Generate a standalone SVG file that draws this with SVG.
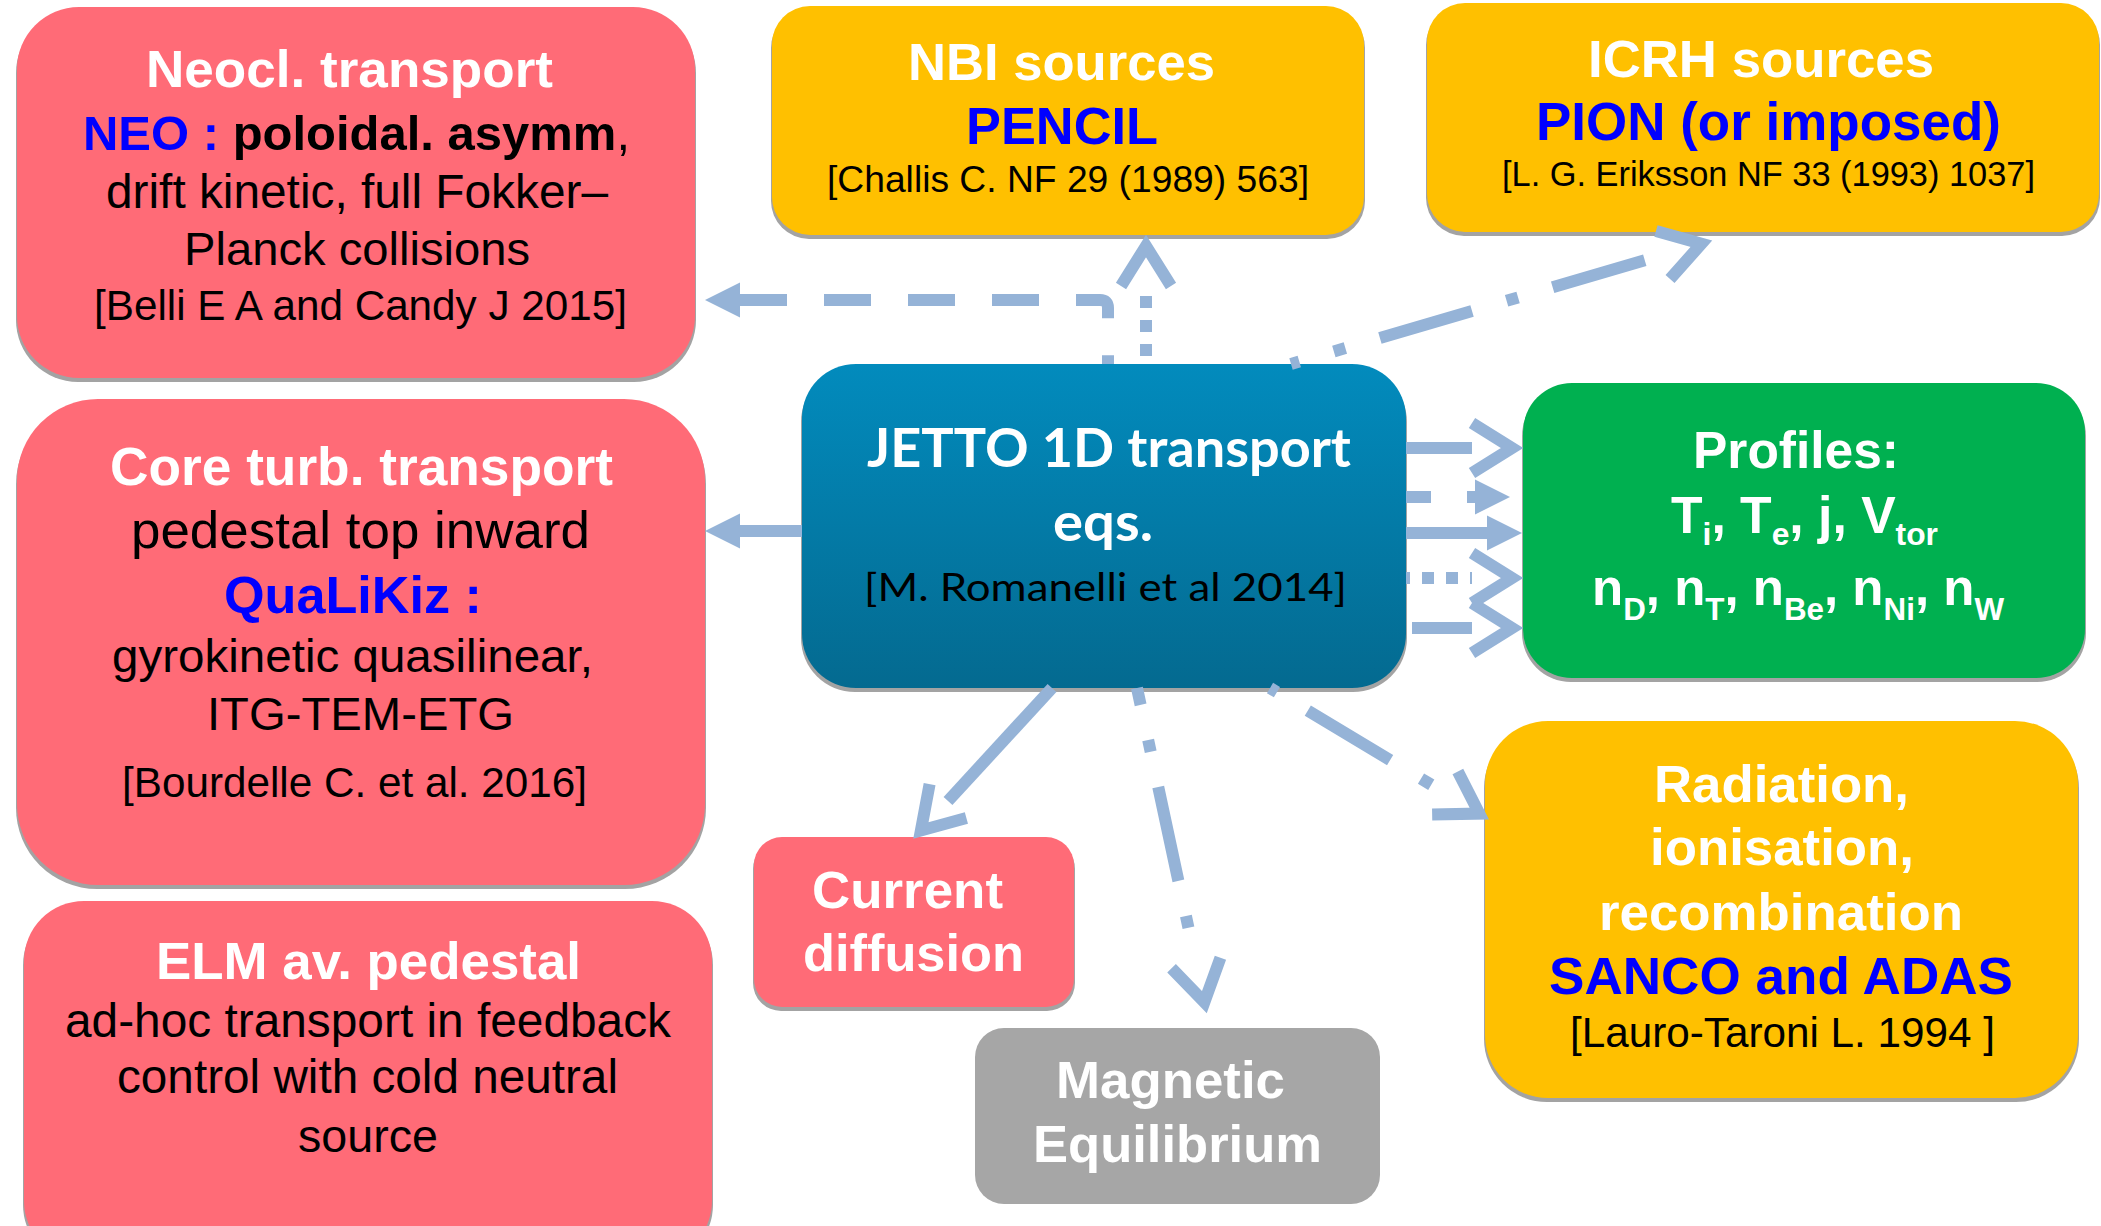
<svg xmlns="http://www.w3.org/2000/svg" width="2101" height="1226" viewBox="0 0 2101 1226">
<defs>
<style>
.t{font-family:"Liberation Sans",Arial,sans-serif;text-anchor:middle}
.c{font-family:Lato,"Open Sans","Liberation Sans",sans-serif;text-anchor:middle}
.b{font-weight:bold}
.w{fill:#FFFFFF}
.k{fill:#000000}
.bl{fill:#0000FF}
.sh{fill:#A3A3A3}
.red{fill:#FF6B77}
.org{fill:#FFC000}
.grn{fill:#00B050}
.gry{fill:#A6A6A6}
.con{fill:none;stroke:#95B3D7;stroke-width:12;stroke-linecap:butt}
.solid{}
.dash{stroke-dasharray:47 37}
.dot{stroke-dasharray:12 12}
.dd{stroke-dasharray:96 36 12 36}
.ft{marker-start:url(#tri)}
.fv{marker-start:url(#vee)}
</style>
<linearGradient id="jg" x1="0" y1="0" x2="0" y2="1">
<stop offset="0" stop-color="#028BBD"/>
<stop offset="1" stop-color="#046A90"/>
</linearGradient>
<marker id="tri" markerUnits="userSpaceOnUse" viewBox="0 -20 40 40" markerWidth="40" markerHeight="40" refX="0" refY="0" orient="auto-start-reverse" overflow="visible">
<polygon points="0,-17.5 35,0 0,17.5" fill="#95B3D7"/>
</marker>
<marker id="vee" markerUnits="userSpaceOnUse" viewBox="-2 -30 60 60" markerWidth="60" markerHeight="60" refX="0" refY="0" orient="auto-start-reverse" overflow="visible">
<path d="M0,-25 L40,0 L0,25" fill="none" stroke="#95B3D7" stroke-width="12" stroke-linejoin="miter" stroke-dasharray="none"/>
</marker>
</defs>
<rect width="2101" height="1226" fill="#FFFFFF"/>

<g id="node-neocl">
<rect class="sh" x="16" y="11" width="680" height="371" rx="62"/>
<rect class="red" x="17" y="7" width="678" height="371" rx="62"/>
<text class="t b w" x="349.5" y="87" font-size="52" textLength="407" lengthAdjust="spacingAndGlyphs">Neocl. transport</text>
<text class="t k" x="356.5" y="150" font-size="49" textLength="547" lengthAdjust="spacingAndGlyphs"><tspan class="b bl">NEO :</tspan><tspan class="b"> poloidal. asymm</tspan><tspan>,</tspan></text>
<text class="t k" x="357" y="208" font-size="48" textLength="502" lengthAdjust="spacingAndGlyphs">drift kinetic, full Fokker–</text>
<text class="t k" x="357" y="265" font-size="47" textLength="346" lengthAdjust="spacingAndGlyphs">Planck collisions</text>
<text class="t k" x="360.5" y="320" font-size="42" textLength="533" lengthAdjust="spacingAndGlyphs">[Belli E A and Candy J 2015]</text>
</g>

<g id="node-nbi">
<rect class="sh" x="771" y="10" width="594" height="229" rx="38"/>
<rect class="org" x="772" y="6" width="592" height="229" rx="38"/>
<text class="t b w" x="1061.5" y="80" font-size="52" textLength="307" lengthAdjust="spacingAndGlyphs">NBI sources</text>
<text class="t b bl" x="1062" y="144" font-size="52" textLength="192" lengthAdjust="spacingAndGlyphs">PENCIL</text>
<text class="t k" x="1068" y="192" font-size="37" textLength="482" lengthAdjust="spacingAndGlyphs">[Challis C. NF 29 (1989) 563]</text>
</g>

<g id="node-icrh">
<rect class="sh" x="1426" y="7" width="674" height="229" rx="38"/>
<rect class="org" x="1427" y="3" width="672" height="229" rx="38"/>
<text class="t b w" x="1761" y="77" font-size="52" textLength="346" lengthAdjust="spacingAndGlyphs">ICRH sources</text>
<text class="t b bl" x="1768.5" y="140" font-size="53" textLength="465" lengthAdjust="spacingAndGlyphs">PION (or imposed)</text>
<text class="t k" x="1768.5" y="186" font-size="35" textLength="533" lengthAdjust="spacingAndGlyphs">[L. G. Eriksson NF 33 (1993) 1037]</text>
</g>

<g id="node-core">
<rect class="sh" x="16" y="403" width="690" height="486" rx="81"/>
<rect class="red" x="17" y="399" width="688" height="486" rx="81"/>
<text class="t b w" x="361.5" y="485" font-size="53" textLength="503" lengthAdjust="spacingAndGlyphs">Core turb. transport</text>
<text class="t k" x="360.5" y="548" font-size="52" textLength="459" lengthAdjust="spacingAndGlyphs">pedestal top inward</text>
<text class="t b bl" x="353" y="613" font-size="52" textLength="258" lengthAdjust="spacingAndGlyphs">QuaLiKiz :</text>
<text class="t k" x="352.5" y="672" font-size="47" textLength="481" lengthAdjust="spacingAndGlyphs">gyrokinetic quasilinear,</text>
<text class="t k" x="360.5" y="730" font-size="47" textLength="307" lengthAdjust="spacingAndGlyphs">ITG-TEM-ETG</text>
<text class="t k" x="354.5" y="797" font-size="42" textLength="465" lengthAdjust="spacingAndGlyphs">[Bourdelle C. et al. 2016]</text>
</g>

<g id="node-elm">
<rect class="sh" x="23" y="905" width="690" height="360" rx="60"/>
<rect class="red" x="24" y="901" width="688" height="360" rx="60"/>
<text class="t b w" x="368.5" y="979" font-size="52" textLength="425" lengthAdjust="spacingAndGlyphs">ELM av. pedestal</text>
<text class="t k" x="368" y="1037" font-size="48" textLength="606" lengthAdjust="spacingAndGlyphs">ad-hoc transport in feedback</text>
<text class="t k" x="367.5" y="1093" font-size="48" textLength="501" lengthAdjust="spacingAndGlyphs">control with cold neutral</text>
<text class="t k" x="368" y="1152" font-size="47" textLength="140" lengthAdjust="spacingAndGlyphs">source</text>
</g>

<g id="node-jetto">
<rect class="sh" x="801" y="368" width="606" height="324" rx="54"/>
<rect x="802" y="364" width="604" height="324" rx="54" fill="url(#jg)"/>
<text class="c b w" x="1109" y="467" font-size="54" textLength="484" lengthAdjust="spacingAndGlyphs">JETTO 1D transport</text>
<text class="c b w" x="1103" y="541" font-size="54" textLength="100" lengthAdjust="spacingAndGlyphs">eqs.</text>
<text class="c k" x="1105.5" y="601" font-size="39" textLength="483" lengthAdjust="spacingAndGlyphs">[M. Romanelli et al 2014]</text>
</g>

<g id="node-profiles">
<rect class="sh" x="1522" y="387" width="564" height="295" rx="49"/>
<rect class="grn" x="1523" y="383" width="562" height="295" rx="49"/>
<text class="t b w" x="1796" y="468" font-size="52" textLength="206" lengthAdjust="spacingAndGlyphs">Profiles:</text>
<text class="t b w" x="1804.5" y="533" font-size="52" textLength="267" lengthAdjust="spacingAndGlyphs">T<tspan font-size="32" dy="12">i</tspan><tspan dy="-12">, T</tspan><tspan font-size="32" dy="12">e</tspan><tspan dy="-12">, j, V</tspan><tspan font-size="32" dy="12">tor</tspan></text>
<text class="t b w" x="1798" y="605" font-size="52" textLength="412" lengthAdjust="spacingAndGlyphs">n<tspan font-size="32" dy="15">D</tspan><tspan dy="-15">, n</tspan><tspan font-size="32" dy="15">T</tspan><tspan dy="-15">, n</tspan><tspan font-size="32" dy="15">Be</tspan><tspan dy="-15">, n</tspan><tspan font-size="32" dy="15">Ni</tspan><tspan dy="-15">, n</tspan><tspan font-size="32" dy="15">W</tspan></text>
</g>

<g id="node-current">
<rect class="sh" x="753" y="841" width="322" height="170" rx="28"/>
<rect class="red" x="754" y="837" width="320" height="170" rx="28"/>
<text class="t b w" x="907.5" y="908" font-size="52" textLength="191" lengthAdjust="spacingAndGlyphs">Current</text>
<text class="t b w" x="913.5" y="971" font-size="52" textLength="221" lengthAdjust="spacingAndGlyphs">diffusion</text>
</g>

<g id="node-magnetic">
<rect class="gry" x="975" y="1028" width="405" height="176" rx="29"/>
<text class="t b w" x="1170.5" y="1098" font-size="52" textLength="229" lengthAdjust="spacingAndGlyphs">Magnetic</text>
<text class="t b w" x="1177.5" y="1162" font-size="52" textLength="289" lengthAdjust="spacingAndGlyphs">Equilibrium</text>
</g>

<g id="node-radiation">
<rect class="sh" x="1484" y="725" width="595" height="377" rx="63"/>
<rect class="org" x="1485" y="721" width="593" height="377" rx="63"/>
<text class="t b w" x="1781.5" y="802" font-size="52" textLength="255" lengthAdjust="spacingAndGlyphs">Radiation,</text>
<text class="t b w" x="1782" y="865" font-size="52" textLength="264" lengthAdjust="spacingAndGlyphs">ionisation,</text>
<text class="t b w" x="1781" y="930" font-size="52" textLength="364" lengthAdjust="spacingAndGlyphs">recombination</text>
<text class="t b bl" x="1781" y="994" font-size="52" textLength="464" lengthAdjust="spacingAndGlyphs">SANCO and ADAS</text>
<text class="t k" x="1782.5" y="1047" font-size="42" textLength="425" lengthAdjust="spacingAndGlyphs">[Lauro-Taroni L. 1994 ]</text>
</g>

<g id="connectors">
<path class="con dash ft" d="M740,300 H1100 Q1108,300 1108,308 V364"/>
<path class="con dot fv" style="stroke-dashoffset:14" d="M1146,286 V364"/>
<path class="con dd fv" style="stroke-dashoffset:161" d="M1663,255 L1291,364"/>
<path class="con solid ft" d="M740,531 H802"/>
<path class="con solid fv" d="M1472,448 H1406"/>
<path class="con ft" style="stroke-dasharray:8 36 100" d="M1475,497 H1406"/>
<path class="con solid ft" d="M1487,533 H1406"/>
<path class="con dot fv" style="stroke-dashoffset:10" d="M1472,578 H1406"/>
<path class="con solid fv" d="M1472,628 H1412"/>
<path class="con solid fv" d="M948,801 L1052,688"/>
<path class="con dd fv" style="stroke-dashoffset:96" d="M1196,963 L1137,688"/>
<path class="con dd fv" style="stroke-dashoffset:116" d="M1445,793 L1270,688"/>
</g>
</svg>
